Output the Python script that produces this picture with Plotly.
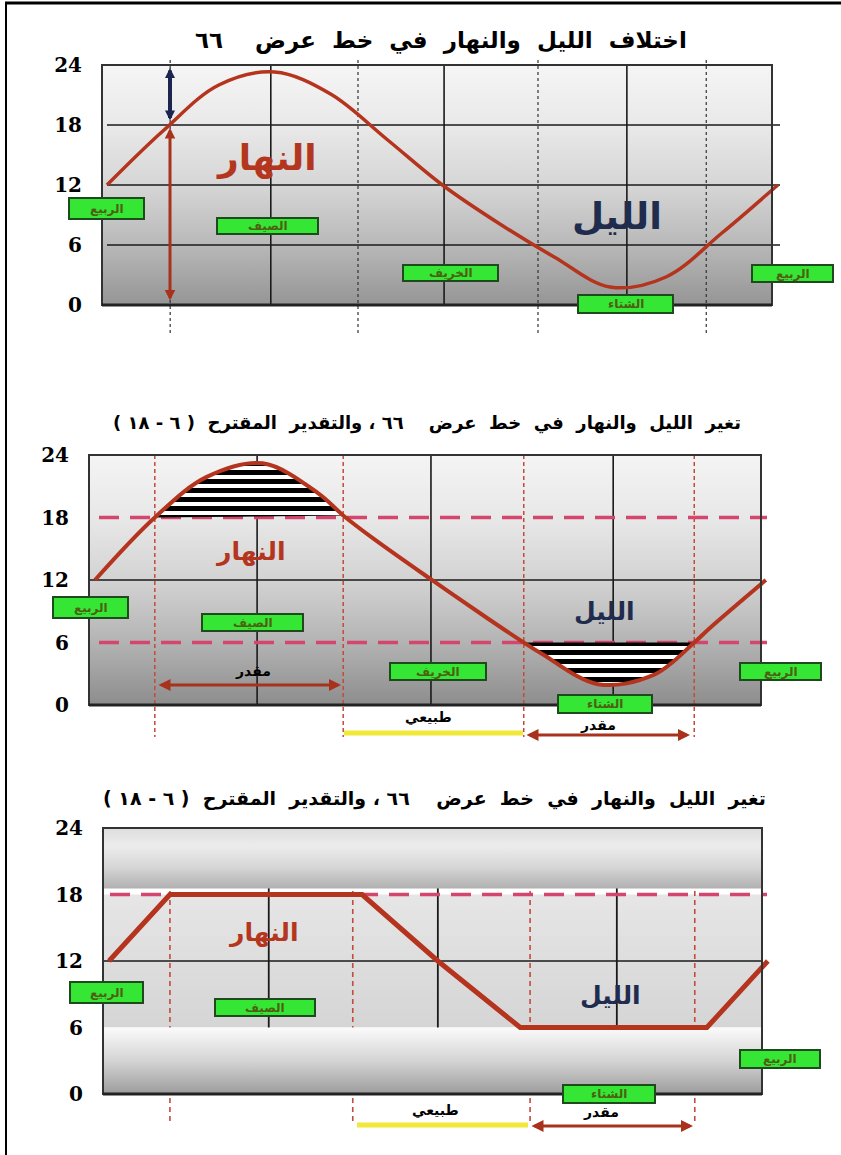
import plotly.graph_objects as go

W, H = 841, 1155

# ---------------- data ----------------
hour_ticks = [0, 6, 12, 18, 24]
hour_labels = ["0", "6", "12", "18", "24"]
proposed_band = [6, 18]

# x = months after the spring equinox, y = hours of daylight
p1_months = [0, 1, 2, 3, 4, 5, 6, 7, 8, 9, 10, 11, 12]
p1_hours = [12, 17.4, 22.0, 23.3, 21.1, 16.6, 12.0, 8.2, 4.8, 1.8, 2.8, 7.2, 12]
p1_season_months = [2.93, 6.03, 9.30]
p1_marker_months = [1.13, 4.49, 7.71, 10.72]
p1_grid_hours = [6, 12, 18]

p2_months = [0, 1.07, 2, 3, 4, 4.44, 5, 6, 7, 7.67, 8, 9, 10, 10.72, 11, 12]
p2_hours = [12, 18, 21.9, 23.2, 20.3, 18.2, 15.9, 12.1, 8.4, 6, 4.9, 2.0, 2.9, 6, 7.4, 12]
p2_season_months = [2.90, 6.01, 9.27]
p2_marker_months = [1.07, 4.44, 7.67, 10.72]
p2_grid_hours = [12]

p3_months = [0, 1.11, 4.61, 5.99, 7.49, 10.89, 12]
p3_hours = [12, 18, 18, 12, 6, 6, 12]
p3_season_months = [2.91, 5.99, 9.25]
p3_marker_months = [1.11, 4.44, 7.67, 10.67]
p3_grid_hours = [12]

RLM = "\u200f"
SP = "\u00a0"
titles = [
    "اختلاف" + SP * 2 + "الليل" + SP * 2 + "والنهار" + SP * 2 + "في" + SP * 2 + "خط" + SP * 2 + "عرض" + SP * 4 + "٦٦",
    ("تغير" + SP + " الليل" + SP + " والنهار" + SP + " في" + SP + " خط" + SP + " عرض" + SP * 3 + " ٦٦ ، "
     + "والتقدير" + SP + " المقترح" + SP + " ( ٦ - ١٨ )" + RLM),
    ("تغير" + SP + " الليل" + SP + " والنهار" + SP + " في" + SP + " خط" + SP + " عرض" + SP * 3 + " ٦٦ ، "
     + "والتقدير" + SP + " المقترح" + SP + " ( ٦ - ١٨ )" + RLM),
]
day_label = "النهار"
night_label = "الليل"
season_names = ["الربيع", "الصيف", "الخريف", "الشتاء", "الربيع"]
natural_label = "طبيعي"
estimated_label = "مقدر"

# ---------------- layout geometry (pixels) ----------------
panels = [
    dict(left=102, right=772, top=65, bottom=305, m0=107, s=55.9),
    dict(left=89, right=761, top=455, bottom=705, m0=95, s=55.9),
    dict(left=103, right=762, top=828, bottom=1094, m0=109, s=54.9),
]

AR = "DejaVu Sans"
CURVE = "#b5341e"
DAYC = "#b4361f"
NIGHTC = "#1f2c4d"
PINK = "#d4466e"
REDDASH = "#c44a3c"
ARROWRED = "#a8321c"
YELLOW = "#f1e93a"


def X(px):
    return px / W


def Y(py):
    return 1 - py / H


def mx(i, px):
    p = panels[i]
    return (px - p["m0"]) / p["s"]


def hy(i, py):
    p = panels[i]
    return 24 * (p["bottom"] - py) / (p["bottom"] - p["top"])


fig = go.Figure()


def add(tr, i):
    sfx = "" if i == 0 else str(i + 1)
    tr.update(xaxis="x" + sfx, yaxis="y" + sfx, hoverinfo="skip", showlegend=False)
    fig.add_trace(tr)


def rect_trace(i, xa, xb, ya, yb, colorscale):
    add(go.Scatter(x=[xa, xb, xb, xa, xa], y=[ya, ya, yb, yb, ya], mode="lines",
                   line=dict(width=0), fill="toself",
                   fillgradient=dict(type="vertical", colorscale=colorscale)), i)


def hlines(i, hours, xa, xb, color, width, dash="solid"):
    xs, ys = [], []
    for h in hours:
        xs += [xa, xb, None]
        ys += [h, h, None]
    add(go.Scatter(x=xs, y=ys, mode="lines", line=dict(color=color, width=width, dash=dash)), i)


def vlines(i, months, ya, yb, color, width, dash="solid"):
    xs, ys = [], []
    for m in months:
        xs += [m, m, None]
        ys += [ya, yb, None]
    add(go.Scatter(x=xs, y=ys, mode="lines", line=dict(color=color, width=width, dash=dash)), i)


bg1 = [[0, "#959595"], [0.25, "#b8b8b8"], [0.5, "#d6d6d6"], [0.75, "#e9e9e9"], [1, "#f5f5f5"]]
bg2 = [[0, "#8d8d8d"], [0.25, "#b3b3b3"], [0.5, "#d3d3d3"], [0.75, "#e8e8e8"], [1, "#f4f4f4"]]

# ---------------- panel 1 ----------------
i = 0
bl, br = mx(i, panels[i]["left"]), mx(i, panels[i]["right"])
rect_trace(i, bl, br, 0, 24, bg1)
hlines(i, p1_grid_hours, p1_months[0], mx(i, 780), "#1a1a1a", 1.6)
vlines(i, p1_season_months, 0, 24, "#1a1a1a", 1.6)
vlines(i, p1_marker_months, hy(i, 60), hy(i, 333), "#333333", 1.2, "dot")
add(go.Scatter(x=p1_months, y=p1_hours, mode="lines",
               line=dict(color=CURVE, width=3.5, shape="spline")), i)

# ---------------- panel 2 ----------------
i = 1
bl, br = mx(i, panels[i]["left"]), mx(i, panels[i]["right"])
rect_trace(i, bl, br, 0, 24, bg2)
hlines(i, p2_grid_hours, bl, br, "#1a1a1a", 1.6)
vlines(i, p2_season_months, 0, 24, "#1a1a1a", 1.6)
vlines(i, p2_marker_months, 24, hy(i, 737), REDDASH, 1.5, "4px,3px")
hlines(i, proposed_band, mx(i, 99), mx(i, 767), PINK, 3.5, "20px,11px")
hi_x = [m for m, h in zip(p2_months, p2_hours) if h >= proposed_band[1]]
hi_y = [h for h in p2_hours if h >= proposed_band[1]]
lo_x = [m for m, h in zip(p2_months, p2_hours) if h <= proposed_band[0]]
lo_y = [h for h in p2_hours if h <= proposed_band[0]]
for hx, hyv in ((hi_x, hi_y), (lo_x, lo_y)):
    add(go.Scatter(x=hx, y=hyv, mode="lines", line=dict(width=0, shape="spline"),
                   fill="toself", fillcolor="white",
                   fillpattern=dict(shape="-", fgcolor="#000000", bgcolor="white",
                                    fgopacity=1, size=9, solidity=0.55)), i)
add(go.Scatter(x=p2_months, y=p2_hours, mode="lines",
               line=dict(color=CURVE, width=4, shape="spline")), i)

# ---------------- panel 3 ----------------
i = 2
bl, br = mx(i, panels[i]["left"]), mx(i, panels[i]["right"])
rect_trace(i, bl, br, proposed_band[0], proposed_band[1],
           [[0, "#d5d5d5"], [1, "#e6e6e6"]])
hlines(i, p3_grid_hours, bl, br, "#1a1a1a", 1.6)
vlines(i, p3_season_months, 0, 24, "#1a1a1a", 1.8)
vlines(i, p3_marker_months, 24, hy(i, 1125), REDDASH, 1.6, "5px,4px")
hlines(i, [proposed_band[1]], mx(i, 110), mx(i, 767), PINK, 3.5, "20px,11px")
rect_trace(i, bl, br, proposed_band[1] + 0.55, 24,
           [[0, "#b0b0b0"], [0.35, "#d6d6d6"], [0.7, "#ececec"], [1, "#dedede"]])
rect_trace(i, bl, br, 0, proposed_band[0],
           [[0, "#9c9c9c"], [0.5, "#d4d4d4"], [1, "#fbfbfb"]])
add(go.Scatter(x=p3_months, y=p3_hours, mode="lines",
               line=dict(color=CURVE, width=5, shape="linear")), i)

# ---------------- axes ----------------
for i, p in enumerate(panels):
    sfx = "" if i == 0 else str(i + 1)
    xr = p["right"] + 16
    ytop, ybot = p["top"] - 14, p["bottom"] + 40
    fig.update_layout(**{
        "xaxis" + sfx: dict(domain=[X(p["left"]), X(xr)], range=[mx(i, p["left"]), mx(i, xr)],
                            visible=False, fixedrange=True, anchor="y" + sfx),
        "yaxis" + sfx: dict(domain=[Y(ybot), Y(ytop)], range=[hy(i, ybot), hy(i, ytop)],
                            tickvals=hour_ticks, ticktext=hour_labels,
                            ticks="outside", ticklen=15, tickcolor="rgba(0,0,0,0)",
                            tickfont=dict(family="DejaVu Serif", size=20, color="black", weight="bold"),
                            showgrid=False, zeroline=False, showline=False,
                            fixedrange=True, anchor="x" + sfx),
    })
    # plot frame
    fig.add_shape(type="rect", xref="paper", yref="paper",
                  x0=X(p["left"]), x1=X(p["right"]), y0=Y(p["bottom"]), y1=Y(p["top"]),
                  line=dict(color="#333333", width=2), layer="above")
    fig.add_shape(type="line", xref="paper", yref="paper",
                  x0=X(p["left"]), x1=X(p["right"]), y0=Y(p["bottom"]), y1=Y(p["bottom"]),
                  line=dict(color="#222222", width=3), layer="above")


def text(t, px, py, size, color="black", family=AR):
    fig.add_annotation(text=t, x=X(px), y=Y(py), xref="paper", yref="paper",
                       xanchor="center", yanchor="middle", showarrow=False,
                       font=dict(family=family, size=size, color=color, weight="bold"))


def season_box(name, x0, x1, y0, y1):
    fig.add_shape(type="rect", xref="paper", yref="paper",
                  x0=X(x0), x1=X(x1), y0=Y(y1), y1=Y(y0),
                  fillcolor="#35e635", line=dict(color="#1e4a1e", width=2), layer="above")
    text(name, (x0 + x1) / 2, (y0 + y1) / 2, 12, "#4e5e12")


def darrow(x1, y1, x2, y2, color, width, size=0.8):
    fig.add_annotation(xref="paper", yref="paper", x=X(x2), y=Y(y2),
                       axref="pixel", ayref="pixel", ax=x1 - x2, ay=y1 - y2,
                       text="", showarrow=True, arrowside="end+start",
                       arrowhead=2, startarrowhead=2, arrowsize=size, startarrowsize=size,
                       arrowwidth=width, arrowcolor=color, standoff=0, startstandoff=0)


# titles
text(titles[0], 441, 40, 23)
text(titles[1], 427, 423, 18)
text(titles[2], 434, 798, 19)

# big labels
text(day_label, 266, 158, 36, DAYC)
text(night_label, 617, 216, 37, NIGHTC)
text(day_label, 250, 552, 25, DAYC)
text(night_label, 604, 611, 25, NIGHTC)
text(day_label, 263, 933, 25, DAYC)
text(night_label, 610, 995, 25, NIGHTC)

# season boxes
boxes1 = [(69, 144, 198, 219), (217, 318, 218, 234), (403, 498, 265, 281), (578, 673, 295, 313), (752, 833, 265, 282)]
boxes2 = [(53, 128, 597, 618), (202, 303, 614, 631), (390, 486, 663, 680), (558, 652, 695, 713), (740, 821, 663, 680)]
for name, b in zip(season_names, boxes1):
    season_box(name, *b)
for name, b in zip(season_names, boxes2):
    season_box(name, *b)
boxes3 = [(0, (70, 143, 982, 1003)), (1, (215, 315, 999, 1016)), (3, (563, 655, 1085, 1103)), (4, (740, 820, 1050, 1068))]
for k, b in boxes3:
    season_box(season_names[k], *b)

# arrows panel 1
darrow(170, 302, 170, 128, ARROWRED, 3, 0.7)
darrow(170, 122, 170, 68, "#1c2450", 4, 0.5)

# panel 2 under-plot marks
text(estimated_label, 253, 671, 14)
darrow(157, 685, 341, 685, ARROWRED, 3)
text(natural_label, 428, 717, 14)
fig.add_shape(type="line", xref="paper", yref="paper", x0=X(344), x1=X(523), y0=Y(733), y1=Y(733),
              line=dict(color=YELLOW, width=5))
darrow(525, 735, 690, 735, ARROWRED, 3)
text(estimated_label, 598, 725, 14)

# panel 3 under-plot marks
text(natural_label, 436, 1110, 14)
fig.add_shape(type="line", xref="paper", yref="paper", x0=X(357), x1=X(528), y0=Y(1125), y1=Y(1125),
              line=dict(color=YELLOW, width=5))
darrow(530, 1126, 693, 1126, ARROWRED, 3)
text(estimated_label, 601, 1112, 14)

# page border
fig.add_shape(type="line", xref="paper", yref="paper", x0=X(5), x1=1, y0=Y(3), y1=Y(3),
              line=dict(color="black", width=3), layer="above")
fig.add_shape(type="line", xref="paper", yref="paper", x0=X(6), x1=X(6), y0=0, y1=Y(2),
              line=dict(color="black", width=2), layer="above")

fig.update_layout(width=W, height=H, margin=dict(l=0, r=0, t=0, b=0),
                  paper_bgcolor="white", plot_bgcolor="rgba(0,0,0,0)", showlegend=False)

fig.write_html("out.html", config={"displayModeBar": False},
               post_script="document.body.style.margin='0';")
